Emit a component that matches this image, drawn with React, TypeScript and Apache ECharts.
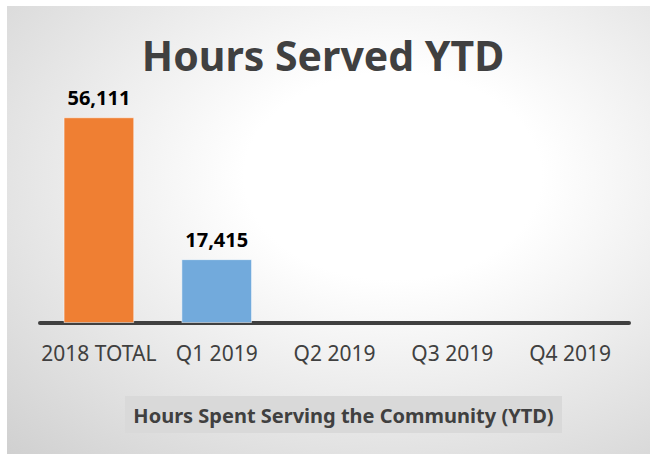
import React, { useEffect, useRef } from "react";
import * as echarts from "echarts";

const categories = ["2018 TOTAL", "Q1 2019", "Q2 2019", "Q3 2019", "Q4 2019"];
const hours = [56111, 17415, null, null, null];
const barColors = ["#EF7F33", "#72AADC", "#72AADC", "#72AADC", "#72AADC"];
const chartTitle = "Hours Served YTD";
const axisTitle = "Hours Spent Serving the Community (YTD)";

const FONT = "'Noto Sans', sans-serif";

export default function App() {
  const ref = useRef<HTMLDivElement>(null);
  useEffect(() => {
    document.body.style.margin = "0";
    document.body.style.background = "#ffffff";
    const chart = echarts.init(ref.current!, null, { renderer: "svg" });
    chart.setOption({
      animation: false,
      backgroundColor: {
        type: "radial",
        x: 0.6,
        y: 0.38,
        r: 1.05,
        colorStops: [
          { offset: 0, color: "#ffffff" },
          { offset: 0.22, color: "#ffffff" },
          { offset: 1, color: "#c2c2c2" },
        ],
      },
      title: {
        text: chartTitle,
        left: 311,
        textAlign: "center",
        top: 23,
        textStyle: {
          fontFamily: FONT,
          fontWeight: "bold",
          fontSize: 41,
          color: "#404040",
        },
      },
      grid: { left: 33, right: 21, top: 97, bottom: 131, containLabel: false },
      xAxis: {
        type: "category",
        data: categories,
        axisLine: { show: true, lineStyle: { color: "#404040", width: 4 } },
        axisTick: { show: false },
        axisLabel: {
          margin: 19,
          fontFamily: FONT,
          fontSize: 21,
          color: "#404040",
          interval: 0,
        },
      },
      yAxis: {
        type: "value",
        min: 0,
        max: 60000,
        show: false,
        splitLine: { show: false },
      },
      series: [
        {
          type: "bar",
          barWidth: "60%",
          data: hours.map((v, i) => ({
            value: v,
            itemStyle: { color: barColors[i], borderColor: "rgba(255,255,255,0.5)", borderWidth: 1 },
          })),
          label: {
            show: true,
            position: "top",
            distance: 10,
            fontFamily: FONT,
            fontWeight: "bold",
            fontSize: 20,
            color: "#000000",
            formatter: (p: any) =>
              p.value == null ? "" : Number(p.value).toLocaleString("en-US"),
          },
        },
      ],
      graphic: [
        {
          type: "rect",
          shape: { x: 118, y: 390, width: 437, height: 37 },
          style: { fill: "#d9d9d9" },
        },
        {
          type: "text",
          x: 336.5,
          y: 409,
          style: {
            text: axisTitle,
            fontFamily: FONT,
            fontWeight: "bold",
            fontSize: 20,
            fill: "#404040",
            align: "center",
            verticalAlign: "middle",
          },
        },
      ],
    });
    return () => chart.dispose();
  }, []);
  return (
    <div
      ref={ref}
      style={{ position: "absolute", left: 7, top: 6, width: 643, height: 448 }}
    />
  );
}
